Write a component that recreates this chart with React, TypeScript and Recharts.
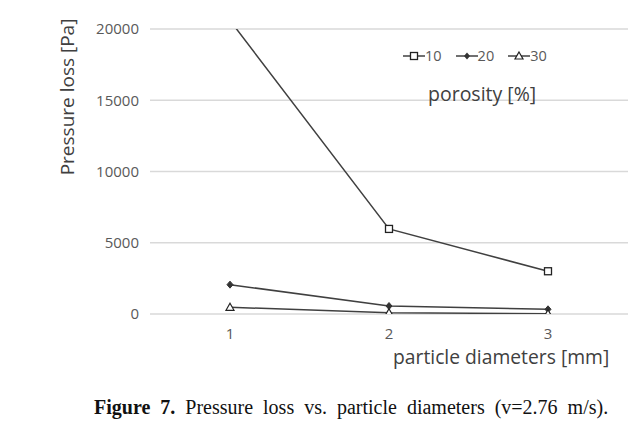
import React from 'react'
import { LineChart, Line, XAxis, YAxis, CartesianGrid, Legend } from 'recharts'

const diameters = ['1', '2', '3']
const porosity10 = [20600, 5970, 3000]
const porosity20 = [2060, 560, 330]
const porosity30 = [470, 90, 20]
const yTicks = [0, 5000, 10000, 15000, 20000]

const data = diameters.map((d, i) => ({
    d,
    p10: porosity10[i],
    p20: porosity20[i],
    p30: porosity30[i],
}))

const LINE = '#404040'
const FONT = '"Open Sans", "Noto Sans", sans-serif'

const SquareDot = (props: any) => {
    const { cx, cy } = props
    if (cx == null || cy == null) return null
    return <rect x={cx - 3.5} y={cy - 3.5} width={7} height={7} fill="#fff" stroke="#222" strokeWidth={1.3} />
}

const DiamondDot = (props: any) => {
    const { cx, cy } = props
    if (cx == null || cy == null) return null
    return <path d={`M${cx},${cy - 3.5}L${cx + 3},${cy}L${cx},${cy + 3.5}L${cx - 3},${cy}Z`} fill="#333" stroke="#333" />
}

const TriangleDot = (props: any) => {
    const { cx, cy } = props
    if (cx == null || cy == null) return null
    return <path d={`M${cx},${cy - 4}L${cx + 4},${cy + 3}L${cx - 4},${cy + 3}Z`} fill="#fff" stroke="#222" strokeWidth={1.2} />
}

const legendItems = [
    { label: '10', icon: 'square' },
    { label: '20', icon: 'diamond' },
    { label: '30', icon: 'triangle' },
]

const LegendIcon = ({ kind }: { kind: string }) => (
    <svg width={22} height={12} style={{ display: 'block' }}>
        <line x1={0} y1={6} x2={22} y2={6} stroke={LINE} strokeWidth={1.5} />
        {kind === 'square' && <rect x={7.5} y={2.5} width={7} height={7} fill="#fff" stroke="#222" strokeWidth={1.3} />}
        {kind === 'diamond' && <path d="M11,2.5L14,6L11,9.5L8,6Z" fill="#333" />}
        {kind === 'triangle' && <path d="M11,2L15,9L7,9Z" fill="#fff" stroke="#222" strokeWidth={1.2} />}
    </svg>
)

const CustomLegend = () => (
    <div style={{ fontFamily: FONT, color: '#595959' }}>
        <div style={{ display: 'flex', alignItems: 'center', fontSize: 14.5 }}>
            {legendItems.map((it) => (
                <div key={it.label} style={{ display: 'flex', alignItems: 'center', marginRight: 14 }}>
                    <LegendIcon kind={it.icon} />
                    <span>{it.label}</span>
                </div>
            ))}
        </div>
        <div style={{ fontSize: 19.5, marginTop: 15, marginLeft: 25, color: '#404040' }}>porosity [%]</div>
    </div>
)

export default function App() {
    const tick = { fill: '#595959', fontSize: 15, fontFamily: FONT }
    return (
        <div style={{ position: 'absolute', left: 0, top: 0, width: 644, height: 448, background: '#fff' }}>
            <LineChart
                width={644}
                height={380}
                data={data}
                margin={{ top: 29, right: 16, left: 90, bottom: 36 }}
            >
                <CartesianGrid vertical={false} stroke="#d9d9d9" strokeWidth={1.3} />
                <XAxis
                    dataKey="d"
                    padding={{ left: 80, right: 80 }}
                    axisLine={false}
                    tickLine={false}
                    tick={tick}
                    tickMargin={8}
                    height={30}
                />
                <YAxis
                    domain={[0, 20000]}
                    ticks={yTicks}
                    allowDataOverflow
                    axisLine={false}
                    tickLine={false}
                    tick={tick}
                    width={60}
                    tickMargin={5}
                />
                <Legend
                    layout="vertical"
                    verticalAlign="middle"
                    align="center"
                    wrapperStyle={{ left: 403, top: 46, width: 200 }}
                    content={<CustomLegend />}
                />
                <Line dataKey="p10" stroke={LINE} strokeWidth={1.5} dot={<SquareDot />} isAnimationActive={false} />
                <Line dataKey="p20" stroke={LINE} strokeWidth={1.5} dot={<DiamondDot />} isAnimationActive={false} />
                <Line dataKey="p30" stroke={LINE} strokeWidth={1.5} dot={<TriangleDot />} isAnimationActive={false} />
            </LineChart>
            <div
                style={{
                    position: 'absolute',
                    left: 67,
                    top: 97,
                    transform: 'translate(-50%, -50%) rotate(-90deg)',
                    whiteSpace: 'nowrap',
                    fontFamily: FONT,
                    fontSize: 19,
                    color: '#404040',
                }}
            >
                Pressure loss [Pa]
            </div>
            <div
                style={{
                    position: 'absolute',
                    left: 393,
                    top: 343,
                    whiteSpace: 'nowrap',
                    fontFamily: FONT,
                    fontSize: 19.3,
                    color: '#404040',
                }}
            >
                particle diameters [mm]
            </div>
            <div
                style={{
                    position: 'absolute',
                    left: 94,
                    top: 396,
                    whiteSpace: 'nowrap',
                    fontFamily: '"Liberation Serif", serif',
                    fontSize: 20,
                    wordSpacing: 5,
                    color: '#111',
                }}
            >
                <b>Figure 7.</b> Pressure loss vs. particle diameters (v=2.76 m/s).
            </div>
        </div>
    )
}
